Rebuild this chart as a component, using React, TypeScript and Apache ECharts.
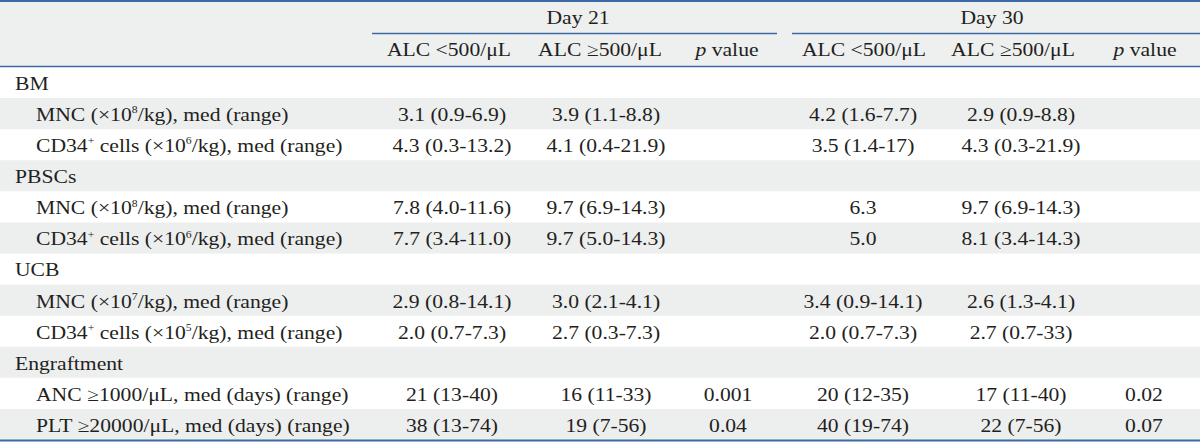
import React, { useEffect, useRef } from "react";
import * as echarts from "echarts";

// ---- Data ----
const dayGroups = ["Day 21", "Day 30"];
const columnHeaders = ["ALC <500/μL", "ALC ≥500/μL", "{i|p} value", "ALC <500/μL", "ALC ≥500/μL", "{i|p} value"];

const rowLabels = [
  "BM",
  "MNC (×10{s|8}/kg), med (range)",
  "CD34{s|+} cells (×10{s|6}/kg), med (range)",
  "PBSCs",
  "MNC (×10{s|8}/kg), med (range)",
  "CD34{s|+} cells (×10{s|6}/kg), med (range)",
  "UCB",
  "MNC (×10{s|7}/kg), med (range)",
  "CD34{s|+} cells (×10{s|5}/kg), med (range)",
  "Engraftment",
  "ANC ≥1000/μL, med (days) (range)",
  "PLT ≥20000/μL, med (days) (range)",
];
const rowIsGroup = [true, false, false, true, false, false, true, false, false, true, false, false];

const day21Low = ["", "3.1 (0.9-6.9)", "4.3 (0.3-13.2)", "", "7.8 (4.0-11.6)", "7.7 (3.4-11.0)", "", "2.9 (0.8-14.1)", "2.0 (0.7-7.3)", "", "21 (13-40)", "38 (13-74)"];
const day21High = ["", "3.9 (1.1-8.8)", "4.1 (0.4-21.9)", "", "9.7 (6.9-14.3)", "9.7 (5.0-14.3)", "", "3.0 (2.1-4.1)", "2.7 (0.3-7.3)", "", "16 (11-33)", "19 (7-56)"];
const day21P = ["", "", "", "", "", "", "", "", "", "", "0.001", "0.04"];
const day30Low = ["", "4.2 (1.6-7.7)", "3.5 (1.4-17)", "", "6.3", "5.0", "", "3.4 (0.9-14.1)", "2.0 (0.7-7.3)", "", "20 (12-35)", "40 (19-74)"];
const day30High = ["", "2.9 (0.9-8.8)", "4.3 (0.3-21.9)", "", "9.7 (6.9-14.3)", "8.1 (3.4-14.3)", "", "2.6 (1.3-4.1)", "2.7 (0.7-33)", "", "17 (11-40)", "22 (7-56)"];
const day30P = ["", "", "", "", "", "", "", "", "", "", "0.02", "0.07"];

// ---- Layout / style ----
const W = 1200;
const H = 442;
const FONT = "'Liberation Serif', 'Times New Roman', serif";
const FS = 18.5;
const SX = 1.17;
const TEXT_COLOR = "#231f20";
const LINE_COLOR = "#3c6aa2";
const GRAY = "#edeeee";
const HEADER_BG = "#eeefef";
const BODY_TOP = 67;
const BODY_BOTTOM = 440;
const colCenters = [452, 606, 728, 863, 1021, 1144];
const headerCenters = [449, 600, 727, 864, 1013, 1145];
const dayCenters = [578, 992];
const dayLines = [[372, 777], [792, 1200]];

const rich = {
  s: { fontSize: 10, lineHeight: 12, verticalAlign: "top", fontFamily: FONT, fill: TEXT_COLOR },
  i: { fontStyle: "italic", fontSize: FS, fontFamily: FONT, fill: TEXT_COLOR },
};

function txt(x: number, y: number, text: string, align: string) {
  return {
    type: "text",
    x,
    y,
    scaleX: SX,
    silent: true,
    style: {
      text,
      fill: TEXT_COLOR,
      fontSize: FS,
      fontFamily: FONT,
      lineHeight: 20,
      align,
      verticalAlign: "middle",
      rich,
    },
  };
}

function hline(x1: number, x2: number, y: number, w: number) {
  return {
    type: "line",
    silent: true,
    shape: { x1, y1: y, x2, y2: y },
    style: { stroke: LINE_COLOR, lineWidth: w },
  };
}

export default function App() {
  const ref = useRef<HTMLDivElement>(null);
  useEffect(() => {
    if (!ref.current) return;
    const chart = echarts.init(ref.current, null, { renderer: "svg" });
    const els: any[] = [];
    const n = rowLabels.length;
    const rowH = (BODY_BOTTOM - BODY_TOP) / n;

    els.push({ type: "rect", silent: true, shape: { x: 0, y: 0, width: W, height: BODY_TOP }, style: { fill: HEADER_BG } });
    for (let i = 0; i < n; i++) {
      if (i % 2 === 1) {
        els.push({ type: "rect", silent: true, shape: { x: 0, y: BODY_TOP + i * rowH, width: W, height: rowH }, style: { fill: GRAY } });
      }
    }
    // lines
    els.push(hline(0, W, 1, 2));
    dayLines.forEach(([a, b]) => els.push(hline(a, b, 33.5, 1.3)));
    els.push(hline(0, W, 66.5, 1.6));
    els.push(hline(0, W, 440.5, 2));

    // header texts
    dayGroups.forEach((d, k) => els.push(txt(dayCenters[k], 17.5, d, "center")));
    columnHeaders.forEach((h, k) => els.push(txt(headerCenters[k], 50, h, "center")));

    const cols = [day21Low, day21High, day21P, day30Low, day30High, day30P];
    for (let i = 0; i < n; i++) {
      const cy = BODY_TOP + i * rowH + rowH / 2 + 1;
      els.push(txt(rowIsGroup[i] ? 15 : 36, cy, rowLabels[i], "left"));
      cols.forEach((col, k) => {
        if (col[i]) els.push(txt(colCenters[k], cy, col[i], "center"));
      });
    }

    chart.setOption({ animation: false, graphic: { elements: els } });
    return () => chart.dispose();
  }, []);
  return <div ref={ref} style={{ position: "fixed", left: 0, top: 0, width: W, height: H, background: "#fff" }} />;
}
